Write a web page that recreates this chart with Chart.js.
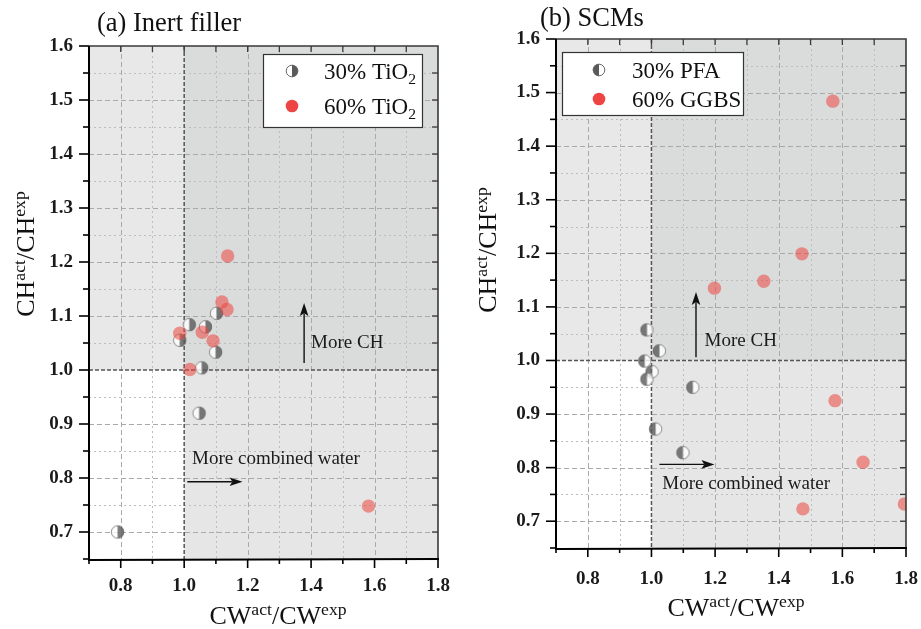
<!DOCTYPE html>
<html>
<head>
<meta charset="utf-8">
<script src="https://cdn.jsdelivr.net/npm/chart.js@4/dist/chart.umd.min.js"></script>
<style>
  html, body { margin: 0; padding: 0; background: #fff; width: 921px; height: 629px; overflow: hidden; position: relative; }
  .panel { position: absolute; top: 0; height: 629px; }
  #wa { left: 0; width: 473px; }
  #wb { left: 460px; width: 481px; }
</style>
</head>
<body>
<div id="wa" class="panel"><canvas id="ca" width="473" height="629"></canvas></div>
<div id="wb" class="panel"><canvas id="cb" width="481" height="629"></canvas></div>
<script>
// ---- data ----
const xTickVals = [0.8, 1.0, 1.2, 1.4, 1.6, 1.8];
const xTickLabels = ['0.8', '1.0', '1.2', '1.4', '1.6', '1.8'];
const yTickVals = [0.7, 0.8, 0.9, 1.0, 1.1, 1.2, 1.3, 1.4, 1.5, 1.6];
const yTickLabels = ['0.7', '0.8', '0.9', '1.0', '1.1', '1.2', '1.3', '1.4', '1.5', '1.6'];

// (a) inert filler
const tio2_30_cw = [1.102, 1.016, 1.067, 0.986, 1.099, 1.055, 1.047, 0.790];
const tio2_30_ch = [1.105, 1.084, 1.080, 1.055, 1.033, 1.004, 0.920, 0.700];
const tio2_60_cw = [1.137, 1.119, 1.135, 0.986, 1.057, 1.091, 1.018, 1.581];
const tio2_60_ch = [1.211, 1.126, 1.112, 1.068, 1.070, 1.054, 1.001, 0.748];

// (b) SCMs
const pfa_30_cw = [0.986, 1.025, 0.979, 1.002, 0.986, 1.130, 1.013, 1.099];
const pfa_30_ch = [1.057, 1.018, 0.999, 0.979, 0.965, 0.950, 0.872, 0.828];
const ggbs_60_cw = [1.570, 1.473, 1.353, 1.198, 1.577, 1.665, 1.476, 1.795];
const ggbs_60_ch = [1.484, 1.199, 1.148, 1.135, 0.925, 0.810, 0.723, 0.732];

// ---- styling helpers ----
const SERIF = '"Liberation Serif", "Times New Roman", serif';
const RED = '#ee4444';
const RED_T = 'rgba(236,70,62,0.55)';

const zip = (xs, ys) => xs.map((v, i) => ({ x: v, y: ys[i] }));

// half-filled circle used for the 30% series
function halfCircle(side, r, alpha) {
  const s = Math.ceil(r * 2 + 3);
  const c = document.createElement('canvas');
  c.width = c.height = s;
  const g = c.getContext('2d');
  const m = s / 2;
  g.globalAlpha = alpha;
  const darkStart = side === 'right' ? -Math.PI / 2 : Math.PI / 2;
  g.beginPath(); g.moveTo(m, m); g.arc(m, m, r, darkStart + Math.PI, darkStart + 2 * Math.PI); g.closePath();
  g.fillStyle = '#ffffff'; g.fill();
  g.beginPath(); g.moveTo(m, m); g.arc(m, m, r, darkStart, darkStart + Math.PI); g.closePath();
  g.fillStyle = '#5a5a5a'; g.fill();
  g.beginPath(); g.arc(m, m, r - 0.4, 0, 2 * Math.PI);
  g.strokeStyle = '#6b6b6b'; g.lineWidth = 1; g.stroke();
  return c;
}

// text runs with super/subscripts: s = 1 sup, -1 sub
function runWidth(ctx, segs, size) {
  let w = 0;
  for (const sg of segs) {
    const fs = sg.s ? size * 0.68 : size;
    ctx.font = `${fs}px ${SERIF}`;
    w += ctx.measureText(sg.t).width;
  }
  return w;
}
function drawRun(ctx, segs, x, y, size, align) {
  let cx = align === 'center' ? x - runWidth(ctx, segs, size) / 2 : x;
  ctx.textAlign = 'left';
  ctx.textBaseline = 'alphabetic';
  for (const sg of segs) {
    const fs = sg.s ? size * 0.68 : size;
    ctx.font = `${fs}px ${SERIF}`;
    const dy = sg.s === 1 ? -size * 0.36 : sg.s === -1 ? size * 0.2 : 0;
    ctx.fillText(sg.t, cx, y + dy);
    cx += ctx.measureText(sg.t).width;
  }
}

const cwTitle = [{ t: 'CW' }, { t: 'act', s: 1 }, { t: '/CW' }, { t: 'exp', s: 1 }];
const chTitle = [{ t: 'CH' }, { t: 'act', s: 1 }, { t: '/CH' }, { t: 'exp', s: 1 }];

function arrow(ctx, x0, y0, x1, y1) {
  const ang = Math.atan2(y1 - y0, x1 - x0);
  const hl = 13, hw = 4.3;
  ctx.beginPath();
  ctx.moveTo(x0, y0);
  ctx.lineTo(x1 - Math.cos(ang) * hl * 0.8, y1 - Math.sin(ang) * hl * 0.8);
  ctx.lineWidth = 1.4; ctx.strokeStyle = '#111'; ctx.stroke();
  ctx.beginPath();
  ctx.moveTo(x1, y1);
  ctx.lineTo(x1 - Math.cos(ang) * hl - Math.sin(ang) * hw, y1 - Math.sin(ang) * hl + Math.cos(ang) * hw);
  ctx.lineTo(x1 - Math.cos(ang) * hl * 0.78, y1 - Math.sin(ang) * hl * 0.78);
  ctx.lineTo(x1 - Math.cos(ang) * hl + Math.sin(ang) * hw, y1 - Math.sin(ang) * hl - Math.cos(ang) * hw);
  ctx.closePath(); ctx.fillStyle = '#111'; ctx.fill();
}

// decoration plugin: quadrant shading, grid, frame, ticks, notes, legend, titles
function decor(cfg) {
  return {
    id: 'decor',
    beforeDatasetsDraw(chart) {
      const { ctx, chartArea: a, scales: { x, y } } = chart;
      const x1 = x.getPixelForValue(1), y1 = y.getPixelForValue(1);
      ctx.save();
      ctx.fillStyle = '#e8e8e8'; ctx.fillRect(a.left, a.top, x1 - a.left, y1 - a.top);
      ctx.fillStyle = '#dadbdb'; ctx.fillRect(x1, a.top, a.right - x1, y1 - a.top);
      ctx.fillStyle = '#e6e6e6'; ctx.fillRect(x1, y1, a.right - x1, a.bottom - y1);
      // grid
      ctx.lineWidth = 1;
      for (let k = 8; k <= 17; k++) {
        if (k === 10) continue;
        const px = Math.round(x.getPixelForValue(k / 10)) + 0.5;
        const major = k % 2 === 0;
        ctx.setLineDash(major ? [5, 3] : [2, 3]);
        ctx.strokeStyle = major ? '#a9a9a9' : '#bdbdbd';
        ctx.beginPath(); ctx.moveTo(px, a.top); ctx.lineTo(px, a.bottom); ctx.stroke();
      }
      for (let k = 14; k <= 31; k++) {
        if (k === 20) continue;
        const py = Math.round(y.getPixelForValue(k / 20)) + 0.5;
        const major = k % 2 === 0;
        ctx.setLineDash(major ? [5, 3] : [2, 3]);
        ctx.strokeStyle = major ? '#a9a9a9' : '#bdbdbd';
        ctx.beginPath(); ctx.moveTo(a.left, py); ctx.lineTo(a.right, py); ctx.stroke();
      }
      // reference lines at 1.0
      ctx.setLineDash([4, 2]);
      ctx.strokeStyle = '#555'; ctx.lineWidth = 1.5;
      ctx.beginPath(); ctx.moveTo(x1, a.top); ctx.lineTo(x1, a.bottom); ctx.stroke();
      ctx.beginPath(); ctx.moveTo(a.left, y1); ctx.lineTo(a.right, y1); ctx.stroke();
      ctx.restore();
    },
    afterDatasetsDraw(chart) {
      const { ctx, chartArea: a, scales: { x, y } } = chart;
      ctx.save();
      // top and right frame with inward ticks
      ctx.strokeStyle = '#3a3a3a'; ctx.lineWidth = 1.6;
      ctx.beginPath(); ctx.moveTo(a.left, a.top); ctx.lineTo(a.right, a.top); ctx.lineTo(a.right, a.bottom); ctx.stroke();
      ctx.lineWidth = 1.3;
      for (let k = 8; k <= 17; k++) {
        const px = x.getPixelForValue(k / 10);
        ctx.beginPath(); ctx.moveTo(px, a.top); ctx.lineTo(px, a.top + 6); ctx.stroke();
      }
      for (let k = 14; k <= 31; k++) {
        const py = y.getPixelForValue(k / 20);
        ctx.beginPath(); ctx.moveTo(a.right, py); ctx.lineTo(a.right - 6, py); ctx.stroke();
      }
      // left and bottom axes with outward ticks
      ctx.strokeStyle = '#000'; ctx.lineWidth = 2;
      ctx.beginPath(); ctx.moveTo(a.left, a.top); ctx.lineTo(a.left, a.bottom + 1); ctx.lineTo(a.right + 1, a.bottom); ctx.stroke();
      ctx.lineWidth = 1.6;
      for (let k = 7; k <= 18; k++) {
        const px = x.getPixelForValue(k / 10);
        const len = k % 2 === 0 ? 9 : 5;
        ctx.beginPath(); ctx.moveTo(px, a.bottom); ctx.lineTo(px, a.bottom + len); ctx.stroke();
      }
      for (let k = 13; k <= 32; k++) {
        const py = y.getPixelForValue(k / 20);
        const len = k % 2 === 0 ? 10 : 6;
        ctx.beginPath(); ctx.moveTo(a.left, py); ctx.lineTo(a.left - len, py); ctx.stroke();
      }
      // notes
      ctx.fillStyle = '#1a1a1a';
      ctx.font = `19px ${SERIF}`;
      ctx.textAlign = 'left'; ctx.textBaseline = 'middle';
      const n = cfg.notes;
      ctx.fillText('More CH', x.getPixelForValue(n.ch.tx), y.getPixelForValue(n.ch.ty));
      arrow(ctx, x.getPixelForValue(n.ch.ax), y.getPixelForValue(n.ch.a0), x.getPixelForValue(n.ch.ax), y.getPixelForValue(n.ch.a1));
      ctx.fillStyle = '#1a1a1a';
      ctx.font = `19px ${SERIF}`;
      ctx.fillText('More combined water', x.getPixelForValue(n.cw.tx), y.getPixelForValue(n.cw.ty));
      arrow(ctx, x.getPixelForValue(n.cw.a0), y.getPixelForValue(n.cw.ay), x.getPixelForValue(n.cw.a1), y.getPixelForValue(n.cw.ay));
      // legend
      const L = cfg.legend;
      const lx = a.left + L.dx, ly = a.top + L.dy;
      ctx.fillStyle = '#fff'; ctx.fillRect(lx, ly, L.w, L.h);
      ctx.strokeStyle = '#333'; ctx.lineWidth = 1.2; ctx.strokeRect(lx + 0.5, ly + 0.5, L.w, L.h);
      chart.data.datasets.forEach(ds => {
        const my = ly + L.rows[ds.legendRow];
        const mx = lx + L.mx;
        if (ds.legendMarker) {
          ctx.drawImage(ds.legendMarker, mx - ds.legendMarker.width / 2, my - ds.legendMarker.height / 2);
        } else {
          ctx.beginPath(); ctx.arc(mx, my, 6.3, 0, 2 * Math.PI); ctx.fillStyle = RED; ctx.fill();
        }
        ctx.fillStyle = '#111';
        drawRun(ctx, ds.legendText, lx + L.tx, my + 8, 23, 'left');
      });
      // axis titles
      ctx.fillStyle = '#111';
      drawRun(ctx, cwTitle, cfg.xTitle.x, cfg.xTitle.y, 26, 'center');
      ctx.save();
      ctx.translate(cfg.yTitle.x, cfg.yTitle.y);
      ctx.rotate(-Math.PI / 2);
      drawRun(ctx, chTitle, 0, 0, 26, 'center');
      ctx.restore();
      // panel title
      ctx.font = `26.5px ${SERIF}`;
      ctx.textAlign = 'left'; ctx.textBaseline = 'alphabetic';
      ctx.fillStyle = '#111';
      ctx.fillText(cfg.title.t, cfg.title.x, cfg.title.y);
      ctx.restore();
    }
  };
}

function panel(id, series, cfg) {
  const tickFont = { family: SERIF, size: 19, weight: 'bold' };
  return new Chart(document.getElementById(id), {
    type: 'scatter',
    data: {
      datasets: [
        {
          label: series.halfLabel, data: series.half, order: 2,
          pointStyle: halfCircle(series.side, 6.6, 0.8), pointRadius: 7,
          legendMarker: halfCircle(series.side, 6.2, 1), legendText: series.halfRun, legendRow: 0,
          clip: 0
        },
        {
          label: series.fullLabel, data: series.full, order: 1,
          pointStyle: 'circle', pointRadius: 6.7, borderWidth: 0,
          backgroundColor: RED_T, legendText: series.fullRun, legendRow: 1,
          clip: 0
        }
      ]
    },
    options: {
      responsive: false, animation: false, events: [],
      layout: { padding: { top: cfg.pad.top, right: cfg.pad.right, left: 0, bottom: 0 } },
      plugins: { legend: { display: false }, tooltip: { enabled: false } },
      scales: {
        x: {
          type: 'linear', min: 0.7, max: 1.8,
          afterBuildTicks: s => { s.ticks = xTickVals.map(v => ({ value: v })); },
          afterFit: s => { s.height = cfg.xh; },
          grid: { display: false, drawTicks: false }, border: { display: false },
          ticks: { font: tickFont, color: '#1a1a1a', padding: cfg.xpad, maxRotation: 0, callback: (v, i) => xTickLabels[i] }
        },
        y: {
          type: 'linear', min: 0.65, max: 1.6,
          afterBuildTicks: s => { s.ticks = yTickVals.map(v => ({ value: v })); },
          afterFit: s => { s.width = cfg.yw; },
          grid: { display: false, drawTicks: false }, border: { display: false },
          ticks: { font: tickFont, color: '#1a1a1a', padding: cfg.ypad, callback: (v, i) => yTickLabels[i] }
        }
      }
    },
    plugins: [decor(cfg)]
  });
}

panel('ca', {
  half: zip(tio2_30_cw, tio2_30_ch), full: zip(tio2_60_cw, tio2_60_ch), side: 'right',
  halfLabel: '30% TiO2', fullLabel: '60% TiO2',
  halfRun: [{ t: '30% TiO' }, { t: '2', s: -1 }], fullRun: [{ t: '60% TiO' }, { t: '2', s: -1 }]
}, {
  pad: { top: 46, right: 35 }, xh: 70, yw: 89, xpad: 16, ypad: 16,
  notes: { ch: { tx: 1.40, ty: 1.05, ax: 1.378, a0: 1.013, a1: 1.124 },
           cw: { tx: 1.025, ty: 0.835, a0: 1.01, a1: 1.184, ay: 0.793 } },
  legend: { dx: 174, dy: 8, w: 159, h: 73, mx: 29, tx: 61, rows: [17, 52] },
  xTitle: { x: 278, y: 624 }, yTitle: { x: 34, y: 254 },
  title: { t: '(a) Inert filler', x: 97, y: 31 }
});

panel('cb', {
  half: zip(pfa_30_cw, pfa_30_ch), full: zip(ggbs_60_cw, ggbs_60_ch), side: 'left',
  halfLabel: '30% PFA', fullLabel: '60% GGBS',
  halfRun: [{ t: '30% PFA' }], fullRun: [{ t: '60% GGBS' }]
}, {
  pad: { top: 39, right: 35 }, xh: 81, yw: 96, xpad: 20, ypad: 16,
  notes: { ch: { tx: 1.167, ty: 1.037, ax: 1.140, a0: 1.006, a1: 1.128 },
           cw: { tx: 1.034, ty: 0.769, a0: 1.025, a1: 1.198, ay: 0.806 } },
  legend: { dx: 6, dy: 13, w: 181, h: 63, mx: 37, tx: 70, rows: [18, 47] },
  xTitle: { x: 276, y: 616 }, yTitle: { x: 36, y: 250 },
  title: { t: '(b) SCMs', x: 80, y: 26 }
});
</script>
</body>
</html>
